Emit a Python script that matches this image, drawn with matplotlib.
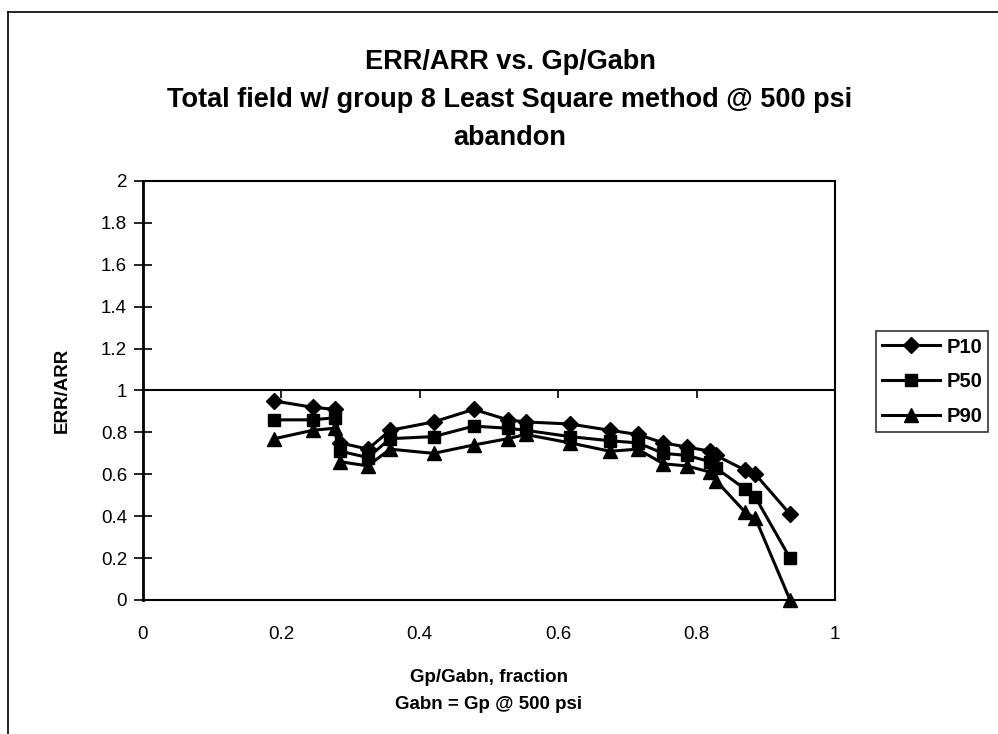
import numpy as np
import matplotlib.pyplot as plt
from matplotlib.lines import Line2D

plt.rcParams["font.family"] = ["Liberation Sans", "DejaVu Sans"]

# Gp/Gabn fraction
gp_frac = [0.19, 0.245, 0.277, 0.285, 0.325, 0.357, 0.42, 0.478, 0.527, 0.553,
           0.617, 0.675, 0.715, 0.752, 0.786, 0.82, 0.828, 0.87, 0.885, 0.935]
p10 = [0.95, 0.92, 0.91, 0.75, 0.72, 0.81, 0.85, 0.91, 0.86, 0.85,
       0.84, 0.81, 0.79, 0.75, 0.73, 0.71, 0.69, 0.62, 0.60, 0.41]
p50 = [0.86, 0.86, 0.87, 0.71, 0.68, 0.77, 0.78, 0.83, 0.82, 0.81,
       0.78, 0.76, 0.75, 0.70, 0.69, 0.66, 0.63, 0.53, 0.49, 0.20]
p90 = [0.77, 0.81, 0.82, 0.66, 0.64, 0.72, 0.70, 0.74, 0.77, 0.79,
       0.75, 0.71, 0.72, 0.65, 0.64, 0.61, 0.57, 0.42, 0.39, 0.00]

x_ticks = [0, 0.2, 0.4, 0.6, 0.8, 1]
x_ticklabels = ["0", "0.2", "0.4", "0.6", "0.8", "1"]
y_ticks = [0, 0.2, 0.4, 0.6, 0.8, 1, 1.2, 1.4, 1.6, 1.8, 2]
y_ticklabels = ["0", "0.2", "0.4", "0.6", "0.8", "1", "1.2", "1.4", "1.6", "1.8", "2"]

W, H = 998, 734
fig = plt.figure(figsize=(W / 100, H / 100), dpi=100)
ax = fig.add_axes([143 / W, 1 - 600 / H, 692 / W, 419 / H])

# outer chart border (left and top visible)
fig.add_artist(Line2D([8 / W, 8 / W], [0, 1 - 12 / H], color="k", lw=1.2))
fig.add_artist(Line2D([8 / W, 1], [1 - 12 / H, 1 - 12 / H], color="k", lw=1.2))

ax.plot(gp_frac, p10, color="k", lw=2.2, marker="D", ms=8, label="P10")
ax.plot(gp_frac, p50, color="k", lw=2.2, marker="s", ms=9, label="P50")
ax.plot(gp_frac, p90, color="k", lw=2.2, marker="^", ms=10, label="P90", clip_on=False)

ax.set_xlim(0, 1)
ax.set_ylim(0, 2)

# x axis crosses at y = 1
ax.axhline(1, color="k", lw=1.5)
ax.plot(x_ticks[1:-1], [1] * 4, ls="none", marker=3, ms=6, mew=1.2, color="k")

ax.set_xticks(x_ticks)
ax.set_xticklabels(x_ticklabels)
ax.set_yticks(y_ticks)
ax.set_yticklabels(y_ticklabels)
ax.tick_params(axis="x", length=0, pad=19, labelsize=13.5)
ax.tick_params(axis="y", direction="inout", length=13, width=1.2, pad=5, labelsize=13.5)

for s in ["top", "right", "bottom"]:
    ax.spines[s].set_linewidth(1.5)
ax.spines["left"].set_linewidth(2)

ax.set_ylabel("ERR/ARR", fontsize=13.5, fontweight="bold")
ax.yaxis.set_label_coords((71 - 143) / 692, 0.5)
ax.set_xlabel("Gp/Gabn, fraction\nGabn = Gp @ 500 psi", fontsize=13.5,
              fontweight="bold", linespacing=1.7, va="center")
ax.xaxis.set_label_coords(0.5, (600 - 691) / 419)

title_x = 510 / W
fig.text(title_x, 1 - 69 / H, "ERR/ARR vs. Gp/Gabn", ha="center", va="baseline",
         fontsize=19.5, fontweight="bold")
fig.text(title_x, 1 - 107 / H, "Total field w/ group 8 Least Square method @ 500 psi",
         ha="center", va="baseline", fontsize=19.5, fontweight="bold")
fig.text(title_x, 1 - 145 / H, "abandon", ha="center", va="baseline",
         fontsize=19.5, fontweight="bold")

leg = ax.legend(loc="lower left", bbox_to_anchor=(876 / W, 1 - 432 / H),
                bbox_transform=fig.transFigure, frameon=True, fancybox=False,
                edgecolor="k", fontsize=14.5, handlelength=2.9, borderpad=0.3,
                labelspacing=0.78, handletextpad=0.3, borderaxespad=0)
leg.get_frame().set_linewidth(1.2)
for t in leg.get_texts():
    t.set_fontweight("bold")

fig.savefig("out.png", dpi=100)
